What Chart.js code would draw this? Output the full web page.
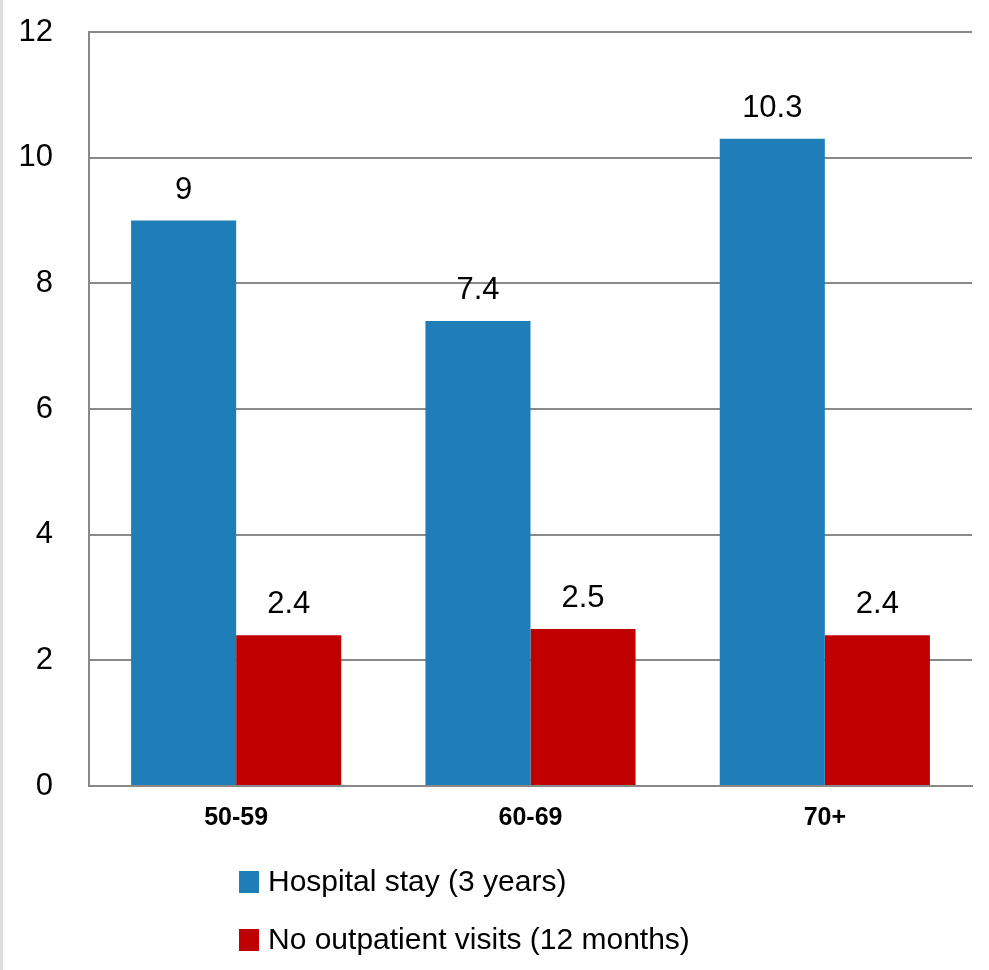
<!DOCTYPE html>
<html>
<head>
<meta charset="utf-8">
<script src="https://cdn.jsdelivr.net/npm/chart.js@4/dist/chart.umd.min.js"></script>
<style>
  html, body { margin: 0; padding: 0; background: #fff; }
  #wrap { border-left: 3px solid #dcdcdc; width: 986px; height: 970px; }
  canvas { display: block; }
</style>
</head>
<body>
<div id="wrap"><canvas id="chart" width="986" height="970"></canvas></div>
<script>
// 類別與數值
const ageGroups = ['50-59', '60-69', '70+'];
const hospitalStay = [9, 7.4, 10.3];
const noOutpatient = [2.4, 2.5, 2.4];
const seriesNames = ['Hospital stay (3 years)', 'No outpatient visits (12 months)'];
const yTicks = [0, 2, 4, 6, 8, 10, 12];

const numFont = '"Liberation Sans", Arial, sans-serif';

// 柱子上方的數值標籤
const valueLabels = {
    id: 'valueLabels',
    afterDatasetsDraw(chart) {
        const ctx = chart.ctx;
        ctx.save();
        ctx.fillStyle = '#000';
        ctx.font = '31px ' + numFont;
        ctx.textAlign = 'center';
        ctx.textBaseline = 'alphabetic';
        chart.data.datasets.forEach((ds, i) => {
            chart.getDatasetMeta(i).data.forEach((bar, j) => {
                ctx.fillText(String(ds.data[j]), bar.x, bar.y - 22);
            });
        });
        ctx.restore();
    }
};

// 上下堆疊的圖例
const stackedLegend = {
    id: 'stackedLegend',
    afterDraw(chart) {
        const ctx = chart.ctx;
        const area = chart.chartArea;
        ctx.save();
        ctx.font = '30px ' + numFont;
        ctx.textAlign = 'left';
        ctx.textBaseline = 'middle';
        chart.data.datasets.forEach((ds, i) => {
            const y = area.bottom + 96 + i * 58;
            const x = area.left + 150;
            ctx.fillStyle = ds.backgroundColor;
            ctx.fillRect(x, y - 11, 20, 22);
            ctx.fillStyle = '#000';
            ctx.fillText(ds.label, x + 29, y + 1);
        });
        ctx.restore();
    }
};

new Chart(document.getElementById('chart'), {
    type: 'bar',
    data: {
        labels: ageGroups,
        datasets: [
            { label: seriesNames[0], data: hospitalStay, backgroundColor: '#1f7eb8' },
            { label: seriesNames[1], data: noOutpatient, backgroundColor: '#c00000' }
        ]
    },
    options: {
        responsive: false,
        animation: false,
        layout: { padding: { left: 16, right: 17, top: 32, bottom: 138 } },
        datasets: { bar: { barPercentage: 1, categoryPercentage: 0.714 } },
        scales: {
            x: {
                grid: { display: false, drawTicks: false },
                border: { display: true, color: '#898989', width: 2 },
                ticks: { color: '#000', padding: 17, font: { family: numFont, size: 25, weight: 'bold' } },
                afterFit(scale) { scale.height = 46; }
            },
            y: {
                min: yTicks[0],
                max: yTicks[yTicks.length - 1],
                afterBuildTicks(scale) {
                    scale.ticks = yTicks.map(v => ({ value: v }));
                },
                grid: { color: '#898989', lineWidth: 2, drawTicks: false },
                border: { display: true, color: '#898989', width: 2 },
                ticks: { color: '#000', padding: 36, font: { family: numFont, size: 31 } },
                afterFit(scale) {
                    scale.width = 70;
                    scale.paddingTop = 0;
                    scale.paddingBottom = 0;
                }
            }
        },
        plugins: {
            legend: { display: false },
            tooltip: { enabled: false }
        }
    },
    plugins: [valueLabels, stackedLegend]
});
</script>
</body>
</html>
